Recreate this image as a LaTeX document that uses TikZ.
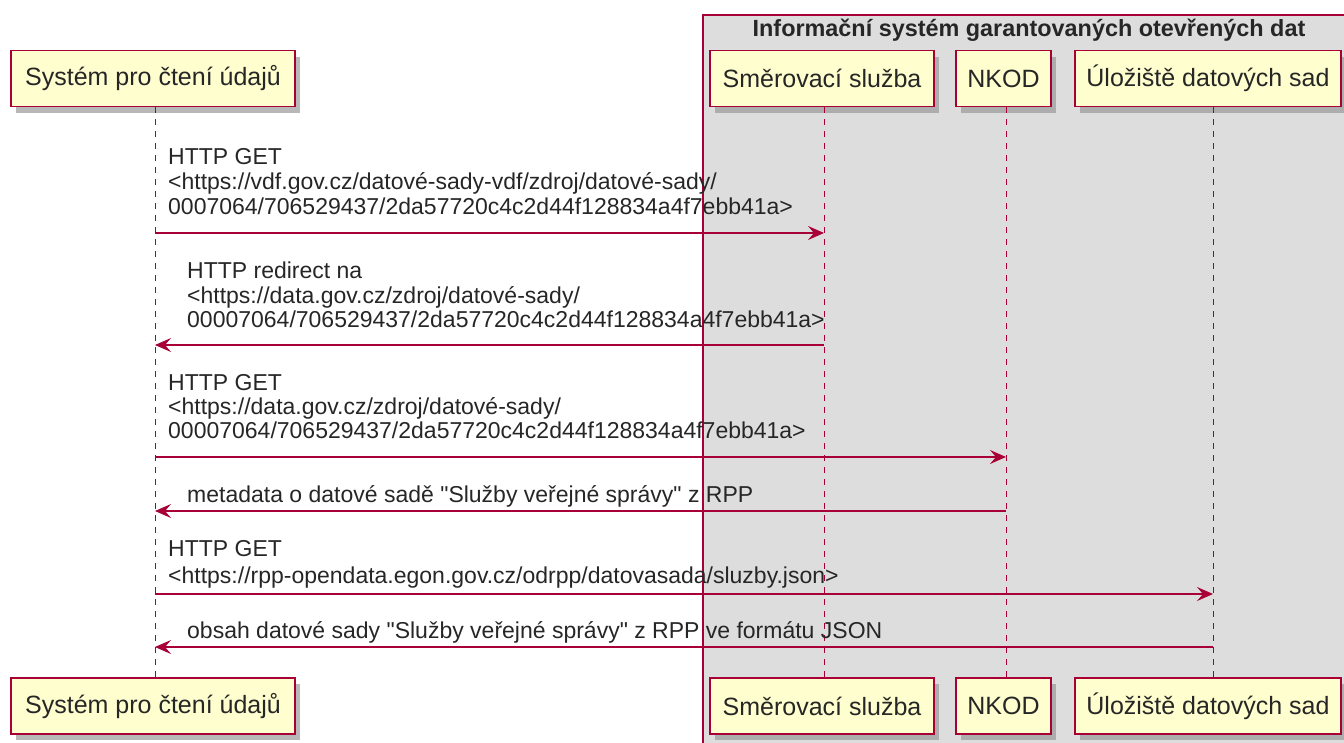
\documentclass[tikz,border=0pt]{standalone}
\usepackage{fontspec}
\setmainfont{Liberation Sans}
\usetikzlibrary{arrows.meta,shadows}
\definecolor{pumlred}{HTML}{A80036}
\definecolor{pumlfill}{HTML}{FEFECE}
\definecolor{pumlgroup}{HTML}{DDDDDD}
\definecolor{pumlshadow}{HTML}{9A9A9A}
\begin{document}
\begin{tikzpicture}[x=1pt,y=-1pt,
  part/.style={draw=pumlred, line width=1.5pt, fill=pumlfill, minimum height=56pt,
    inner sep=0pt, font=\fontsize{25}{29}\selectfont, text=black!85,
    drop shadow={shadow xshift=5pt, shadow yshift=-6pt, fill=pumlshadow, opacity=0.7}},
  life/.style={draw=pumlred, line width=1pt, dash pattern=on 6pt off 6pt},
  msg/.style={draw=pumlred, line width=1.3pt, -{Stealth[length=16pt,width=14pt,inset=6pt]}},
  lbl/.style={anchor=base west, inner sep=0pt, font=\fontsize{23}{27}\selectfont, text=black!85},
]
\useasboundingbox (0,0) rectangle (1344,742);
% group box
\fill[pumlgroup] (703,15) rectangle (1370,770);
\draw[pumlred, line width=1.2pt] (1370,15) -- (703,15) -- (703,770);
\node[font=\bfseries\fontsize{23.4}{27}\selectfont, text=black!85, inner sep=0pt] (gtitle) at (1029,30) {Informační systém garantovaných otevřených dat};

% participants (top)
\node[part, minimum width=284pt] (sysT) at (153,78.5) {Systém pro čtení údajů};
\node[part, minimum width=224pt] (smT) at (822,78.5) {Směrovací služba};
\node[part, minimum width=95pt] (nkT) at (1003.5,78.5) {NKOD};
\node[part, minimum width=266pt] (ulT) at (1208,78.5) {Úložiště datových sad};
% participants (bottom)
\node[part, minimum width=284pt] (sysB) at (153,706) {Systém pro čtení údajů};
\node[part, minimum width=224pt] (smB) at (822,706) {Směrovací služba};
\node[part, minimum width=95pt] (nkB) at (1003.5,706) {NKOD};
\node[part, minimum width=266pt] (ulB) at (1208,706) {Úložiště datových sad};

% lifelines
\draw[life] ([xshift=2pt]sysT.south) -- ([xshift=2pt]sysB.north);
\draw[life] ([xshift=2pt]smT.south) -- ([xshift=2pt]smB.north);
\draw[life] ([xshift=2.5pt]nkT.south) -- ([xshift=2.5pt]nkB.north);
\draw[life] ([xshift=5pt]ulT.south) -- ([xshift=5pt]ulB.north);

% message end points on lifelines
\coordinate (a1) at (155,233);  \coordinate (b1) at (824,233);
\coordinate (a2) at (824,345);  \coordinate (b2) at (155,345);
\coordinate (a3) at (155,457);  \coordinate (b3) at (1006,457);
\coordinate (a4) at (1006,511); \coordinate (b4) at (155,511);
\coordinate (a5) at (155,594);  \coordinate (b5) at (1213,594);
\coordinate (a6) at (1213,647); \coordinate (b6) at (155,647);

% message 1
\node[lbl] (m1a) at (168,164) {HTTP GET};
\node[lbl] (m1b) at (168,189) {<https://vdf.gov.cz/datové-sady-vdf/zdroj/datové-sady/};
\node[lbl] (m1c) at (168,214) {0007064/706529437/2da57720c4c2d44f128834a4f7ebb41a>};
\draw[msg] (a1) -- (b1);
% message 2
\node[lbl] (m2a) at (187,278) {HTTP redirect na};
\node[lbl] (m2b) at (187,303) {<https://data.gov.cz/zdroj/datové-sady/};
\node[lbl] (m2c) at (187,327) {00007064/706529437/2da57720c4c2d44f128834a4f7ebb41a>};
\draw[msg] (a2) -- (b2);
% message 3
\node[lbl] (m3a) at (168,390) {HTTP GET};
\node[lbl] (m3b) at (168,414) {<https://data.gov.cz/zdroj/datové-sady/};
\node[lbl] (m3c) at (168,438) {00007064/706529437/2da57720c4c2d44f128834a4f7ebb41a>};
\draw[msg] (a3) -- (b3);
% message 4
\node[lbl] (m4a) at (187,502) {metadata o datové sadě \textquotedbl Služby veřejné správy\textquotedbl{} z RPP};
\draw[msg] (a4) -- (b4);
% message 5
\node[lbl] (m5a) at (168,556) {HTTP GET};
\node[lbl] (m5b) at (168,583) {<https://rpp-opendata.egon.gov.cz/odrpp/datovasada/sluzby.json>};
\draw[msg] (a5) -- (b5);
% message 6
\node[lbl] (m6a) at (187,638) {obsah datové sady \textquotedbl Služby veřejné správy\textquotedbl{} z RPP ve formátu JSON};
\draw[msg] (a6) -- (b6);
\end{tikzpicture}
\end{document}
